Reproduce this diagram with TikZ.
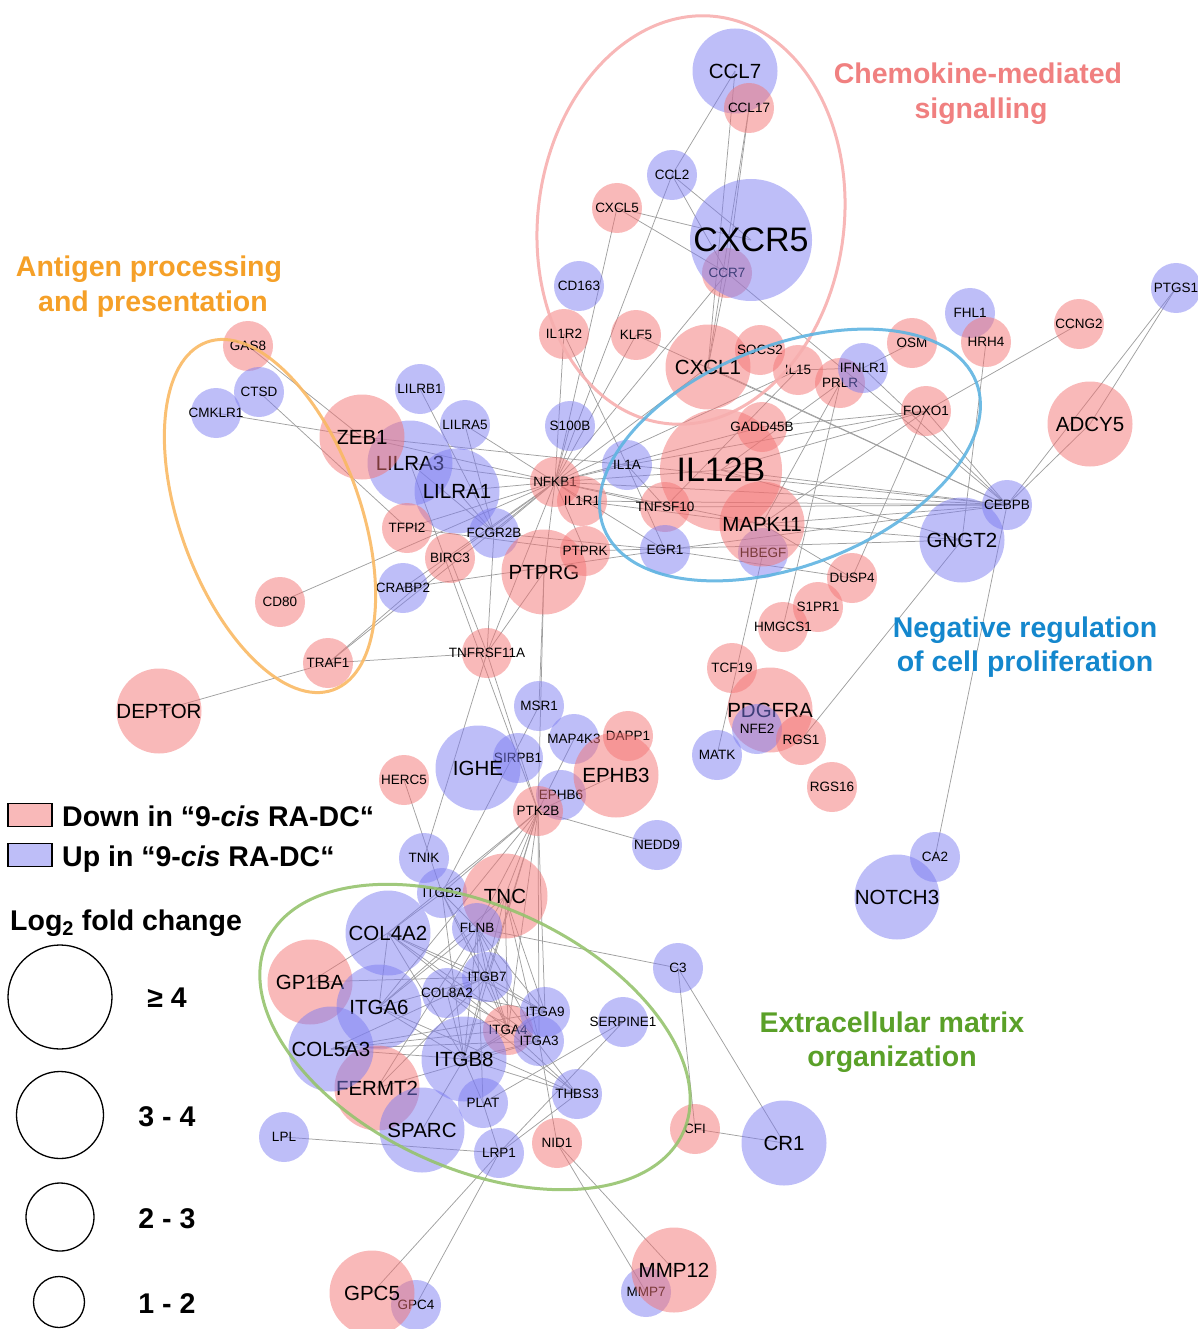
\documentclass[tikz,border=0pt]{standalone}
\usepackage{fontspec}
\setmainfont{Liberation Sans}
\definecolor{pinkc}{RGB}{243,115,115}
\definecolor{bluec}{RGB}{125,125,241}
\definecolor{pinkL}{RGB}{249,185,185}
\definecolor{blueL}{RGB}{190,190,248}
\definecolor{edgec}{RGB}{160,160,160}
\definecolor{chemc}{RGB}{240,128,128}
\definecolor{antic}{RGB}{245,160,40}
\definecolor{negc}{RGB}{20,135,205}
\definecolor{ecmc}{RGB}{90,160,40}
\definecolor{chemE}{RGB}{247,175,175}
\definecolor{antiE}{RGB}{250,185,100}
\definecolor{negE}{RGB}{95,180,225}
\definecolor{ecmE}{RGB}{150,195,110}
\tikzset{
  nd/.style={circle, draw=none, inner sep=0pt, fill opacity=0.5, text opacity=1},
  pk/.style={nd, fill=pinkc},
  bl/.style={nd, fill=bluec},
  sm/.style={minimum size=50pt},
  md/.style={minimum size=85pt},
  lg/.style={minimum size=122pt},
  labsm/.style={inner sep=0pt, font=\fontsize{13.5}{14}\selectfont},
  labmd/.style={inner sep=0pt, font=\fontsize{20.5}{22}\selectfont},
  lablg/.style={inner sep=0pt, font=\fontsize{34}{36}\selectfont},
  edge/.style={draw=edgec, line width=0.75pt},
  title/.style={anchor=base, inner sep=0pt, font=\bfseries\fontsize{28.5}{30}\selectfont},
  legtext/.style={inner sep=0pt, font=\bfseries\fontsize{28.5}{30}\selectfont},
  legbox/.style={draw=black, line width=1.5pt, minimum width=44pt, minimum height=23pt, inner sep=0pt},
  legcirc/.style={draw=black, line width=1.3pt},
  group/.style={line width=3pt, opacity=0.9}
}
\newcommand\gnode[6]{\node[#4,#5] (#1) at (#2,#3) {}; \node[lab#5] (#1-t) at (#2,#3) {#6};}
\begin{document}
\begin{tikzpicture}[x=1pt,y=-1pt]
\useasboundingbox (0,0) rectangle (1197,1329);
% node coordinates (declared first for edges)
\foreach \n/\x/\y in {
CCL17/749/108, CXCL5/617/208, CCR7/727/273, IL1R2/564/334, KLF5/636/335, SOCS2/760/350,
IL15/798/370, GADD45B/762/427, NFKB1/555/482, IL1R1/582/501, TNFSF10/665/507, PTPRK/585/551,
TFPI2/407/528, BIRC3/450/558, TNFRSF11A/487/653, HMGCS1/783/627, S1PR1/818/607, DUSP4/852/578,
FOXO1/926/411, PRLR/840/383, OSM/912/343, HRH4/986/342, CCNG2/1079/324, GAS8/248/346,
CD80/280/602, TRAF1/328/663, DAPP1/628/736, PTK2B/538/811, HERC5/404/780, TCF19/732/668,
RGS1/801/740, RGS16/832/787, ITGA4/508/1030, NID1/557/1143, CFI/695/1129,
CXCL1/708/367, ZEB1/362/437, MAPK11/762/524, PTPRG/544/572, ADCY5/1090/424, DEPTOR/159/711,
EPHB3/616/775, PDGFRA/770/710, TNC/505/896, GP1BA/310/982, FERMT2/377/1088, GPC5/372/1293,
MMP12/674/1270, IL12B/721/470,
CCL2/672/175, CD163/579/286, LILRB1/420/389, LILRA5/465/425, S100B/570/426, IL1A/627/465,
HBEGF/763/553, EGR1/665/550, FCGR2B/494/533, CRABP2/403/588, IFNLR1/863/368, FHL1/970/313,
PTGS1/1176/288, CEBPB/1007/505, CTSD/259/392, CMKLR1/216/413, MSR1/539/706, MAP4K3/574/739,
SIRPB1/518/758, EPHB6/561/795, NEDD9/657/845, TNIK/424/858, ITGB2/442/893, NFE2/757/729,
MATK/717/755, CA2/935/857, FLNB/477/928, ITGB7/487/977, COL8A2/447/993, ITGA9/545/1012,
ITGA3/539/1041, SERPINE1/623/1022, PLAT/483/1103, THBS3/577/1094, LPL/284/1137, LRP1/499/1153,
C3/678/968, GPC4/416/1305, MMP7/646/1292,
CCL7/735/71, LILRA3/410/463, LILRA1/457/491, GNGT2/962/540, IGHE/478/768, NOTCH3/897/897,
CR1/784/1143, COL4A2/388/933, ITGA6/379/1007, COL5A3/331/1049, ITGB8/464/1059, SPARC/422/1130,
CXCR5/751/240}
  \coordinate (\n) at (\x,\y);
% edges
\foreach \a/\b in {
CCL7/CCL2, CCL17/CCR7, CCL17/CXCL1, CCL7/CXCL1, CCL2/CXCR5, CCL2/CCR7, CCL2/NFKB1,
CXCL5/CXCR5, CXCL5/CCR7, CXCL5/NFKB1, CCR7/NFKB1, CCR7/CEBPB, CCR7/CXCL1,
IL1R2/NFKB1, IL1R2/IL1A, KLF5/NFKB1, KLF5/CEBPB,
NFKB1/IL1A, NFKB1/IL12B, NFKB1/IL1R1, NFKB1/TNFSF10, NFKB1/EGR1, NFKB1/MAPK11, NFKB1/PTPRK,
NFKB1/PTPRG, NFKB1/FCGR2B, NFKB1/TFPI2, NFKB1/BIRC3, NFKB1/CRABP2, NFKB1/TNFRSF11A,
NFKB1/LILRA5, NFKB1/LILRA3, NFKB1/LILRA1, NFKB1/ZEB1, NFKB1/S100B, NFKB1/CXCL1, NFKB1/IL15,
NFKB1/CD80, NFKB1/TRAF1, NFKB1/CEBPB, NFKB1/GADD45B,
LILRB1/FCGR2B, LILRA5/FCGR2B, LILRA1/FCGR2B, LILRA3/FCGR2B,
ZEB1/IL1A, ZEB1/CMKLR1, ZEB1/GAS8, CTSD/TFPI2, LILRA3/SIRPB1, TFPI2/PTPRK,
BIRC3/TNFRSF11A, FCGR2B/TNFRSF11A, PTPRG/TNFRSF11A, TRAF1/BIRC3, TRAF1/TNFRSF11A,
TRAF1/DEPTOR, CRABP2/EGR1,
IL1A/EGR1, IL1A/TNFSF10, IL1A/CEBPB, IL1A/FOXO1, IL1R1/CEBPB, IL1R1/MAPK11,
TNFSF10/CEBPB, TNFSF10/IL15, IL12B/CEBPB, IL12B/GNGT2, IL12B/FOXO1, IL12B/PRLR,
MAPK11/GNGT2, MAPK11/CEBPB, MAPK11/DUSP4, MAPK11/FOXO1, MAPK11/PRLR,
EGR1/CEBPB, EGR1/DUSP4, EGR1/FCGR2B, HBEGF/MATK, GADD45B/FOXO1,
CXCL1/CEBPB, IL15/IFNLR1, IFNLR1/CEBPB, IFNLR1/OSM, PRLR/HMGCS1,
FOXO1/CEBPB, FOXO1/DUSP4, FOXO1/CCNG2, HRH4/GNGT2,
PTGS1/ADCY5, PTGS1/CEBPB, ADCY5/CEBPB, GNGT2/RGS1, CEBPB/CA2, PTPRK/GNGT2,
PTPRG/MSR1, PTPRG/PTK2B, TNFRSF11A/PTK2B, TNFRSF11A/TNIK, MSR1/ITGB2, HERC5/ITGB2,
PTK2B/NEDD9, PTK2B/EPHB3, PTK2B/SIRPB1, PTK2B/ITGB2, PTK2B/TNC, PTK2B/FLNB, PTK2B/ITGB7,
PTK2B/ITGA4, PTK2B/ITGA9, PTK2B/ITGA3, PTK2B/ITGB8, PTK2B/COL4A2, PTK2B/ITGA6, PTK2B/MAP4K3,
COL4A2/ITGA6, COL4A2/ITGB8, COL4A2/ITGA9, COL4A2/ITGA3, COL4A2/ITGB7, COL4A2/ITGA4,
GP1BA/COL4A2, GP1BA/ITGB7, ITGA6/ITGB8, ITGA6/ITGB7, ITGA6/FLNB, ITGA6/TNC, ITGA6/THBS3,
COL5A3/ITGB8, COL5A3/ITGA3, COL5A3/ITGA9, COL5A3/ITGA4, COL5A3/ITGB7,
FERMT2/ITGB7, FERMT2/ITGA3, FERMT2/FLNB, SPARC/ITGB8,
PLAT/SERPINE1, PLAT/LRP1, PLAT/ITGB8, PLAT/FLNB,
THBS3/ITGA4, THBS3/ITGB8, THBS3/LRP1, THBS3/COL8A2, THBS3/ITGB7,
SERPINE1/LRP1, LRP1/LPL, LRP1/GPC5, LRP1/GPC4, NID1/MMP12, NID1/MMP7, NID1/ITGA3,
C3/CFI, C3/CR1, CFI/CR1, C3/FLNB,
TNC/ITGA9, TNC/ITGB8, TNC/ITGA3, TNC/ITGA4, TNC/COL8A2,
ITGB2/ITGB7, ITGB2/FLNB, ITGB2/COL4A2, ITGB2/ITGA4, ITGB2/ITGB8,
FLNB/ITGB7, FLNB/ITGA4, FLNB/ITGB8, FLNB/ITGA9, FLNB/ITGA3,
ITGB7/ITGA4, ITGB7/COL8A2, ITGB7/ITGA9, COL8A2/ITGA9, COL8A2/ITGA3, COL8A2/ITGB8,
ITGA9/ITGB8, ITGA3/ITGB8, ITGA4/ITGB8}
  \draw[edge] (\a) -- (\b);
% nodes
\gnode{CCL7}{735}{71}{bl}{md}{CCL7}
\gnode{CCL17}{749}{108}{pk}{sm}{CCL17}
\gnode{CCL2}{672}{175}{bl}{sm}{CCL2}
\gnode{CXCL5}{617}{208}{pk}{sm}{CXCL5}
\gnode{CCR7}{727}{273}{pk}{sm}{CCR7}
\gnode{CXCR5}{751}{240}{bl}{lg}{CXCR5}
\gnode{CD163}{579}{286}{bl}{sm}{CD163}
\gnode{IL1R2}{564}{334}{pk}{sm}{IL1R2}
\gnode{KLF5}{636}{335}{pk}{sm}{KLF5}
\gnode{CXCL1}{708}{367}{pk}{md}{CXCL1}
\gnode{SOCS2}{760}{350}{pk}{sm}{SOCS2}
\gnode{PRLR}{840}{383}{pk}{sm}{PRLR}
\gnode{IFNLR1}{863}{368}{bl}{sm}{IFNLR1}
\gnode{IL15}{798}{370}{pk}{sm}{IL15}
\gnode{OSM}{912}{343}{pk}{sm}{OSM}
\gnode{FHL1}{970}{313}{bl}{sm}{FHL1}
\gnode{HRH4}{986}{342}{pk}{sm}{HRH4}
\gnode{CCNG2}{1079}{324}{pk}{sm}{CCNG2}
\gnode{PTGS1}{1176}{288}{bl}{sm}{PTGS1}
\gnode{ADCY5}{1090}{424}{pk}{md}{ADCY5}
\gnode{FOXO1}{926}{411}{pk}{sm}{FOXO1}
\gnode{IL12B}{721}{470}{pk}{lg}{IL12B}
\gnode{GADD45B}{762}{427}{pk}{sm}{GADD45B}
\gnode{HBEGF}{763}{553}{bl}{sm}{HBEGF}
\gnode{MAPK11}{762}{524}{pk}{md}{MAPK11}
\gnode{TNFSF10}{665}{507}{pk}{sm}{TNFSF10}
\gnode{EGR1}{665}{550}{bl}{sm}{EGR1}
\gnode{IL1A}{627}{465}{bl}{sm}{IL1A}
\gnode{S100B}{570}{426}{bl}{sm}{S100B}
\gnode{GNGT2}{962}{540}{bl}{md}{GNGT2}
\gnode{CEBPB}{1007}{505}{bl}{sm}{CEBPB}
\gnode{DUSP4}{852}{578}{pk}{sm}{DUSP4}
\gnode{S1PR1}{818}{607}{pk}{sm}{S1PR1}
\gnode{HMGCS1}{783}{627}{pk}{sm}{HMGCS1}
\gnode{GAS8}{248}{346}{pk}{sm}{GAS8}
\gnode{CTSD}{259}{392}{bl}{sm}{CTSD}
\gnode{CMKLR1}{216}{413}{bl}{sm}{CMKLR1}
\gnode{LILRB1}{420}{389}{bl}{sm}{LILRB1}
\gnode{LILRA3}{410}{463}{bl}{md}{LILRA3}
\gnode{ZEB1}{362}{437}{pk}{md}{ZEB1}
\gnode{LILRA5}{465}{425}{bl}{sm}{LILRA5}
\gnode{LILRA1}{457}{491}{bl}{md}{LILRA1}
\gnode{TFPI2}{407}{528}{pk}{sm}{TFPI2}
\gnode{FCGR2B}{494}{533}{bl}{sm}{FCGR2B}
\gnode{BIRC3}{450}{558}{pk}{sm}{BIRC3}
\gnode{CRABP2}{403}{588}{bl}{sm}{CRABP2}
\gnode{PTPRG}{544}{572}{pk}{md}{PTPRG}
\gnode{PTPRK}{585}{551}{pk}{sm}{PTPRK}
\gnode{NFKB1}{555}{482}{pk}{sm}{NFKB1}
\gnode{IL1R1}{582}{501}{pk}{sm}{IL1R1}
\gnode{CD80}{280}{602}{pk}{sm}{CD80}
\gnode{TRAF1}{328}{663}{pk}{sm}{TRAF1}
\gnode{TNFRSF11A}{487}{653}{pk}{sm}{TNFRSF11A}
\gnode{DEPTOR}{159}{711}{pk}{md}{DEPTOR}
\gnode{TCF19}{732}{668}{pk}{sm}{TCF19}
\gnode{PDGFRA}{770}{710}{pk}{md}{PDGFRA}
\gnode{NFE2}{757}{729}{bl}{sm}{NFE2}
\gnode{RGS1}{801}{740}{pk}{sm}{RGS1}
\gnode{MATK}{717}{755}{bl}{sm}{MATK}
\gnode{RGS16}{832}{787}{pk}{sm}{RGS16}
\gnode{MSR1}{539}{706}{bl}{sm}{MSR1}
\gnode{MAP4K3}{574}{739}{bl}{sm}{MAP4K3}
\gnode{DAPP1}{628}{736}{pk}{sm}{DAPP1}
\gnode{SIRPB1}{518}{758}{bl}{sm}{SIRPB1}
\gnode{IGHE}{478}{768}{bl}{md}{IGHE}
\gnode{EPHB6}{561}{795}{bl}{sm}{EPHB6}
\gnode{EPHB3}{616}{775}{pk}{md}{EPHB3}
\gnode{PTK2B}{538}{811}{pk}{sm}{PTK2B}
\gnode{HERC5}{404}{780}{pk}{sm}{HERC5}
\gnode{NEDD9}{657}{845}{bl}{sm}{NEDD9}
\gnode{TNIK}{424}{858}{bl}{sm}{TNIK}
\gnode{NOTCH3}{897}{897}{bl}{md}{NOTCH3}
\gnode{CA2}{935}{857}{bl}{sm}{CA2}
\gnode{ITGB2}{442}{893}{bl}{sm}{ITGB2}
\gnode{TNC}{505}{896}{pk}{md}{TNC}
\gnode{COL4A2}{388}{933}{bl}{md}{COL4A2}
\gnode{FLNB}{477}{928}{bl}{sm}{FLNB}
\gnode{GP1BA}{310}{982}{pk}{md}{GP1BA}
\gnode{ITGB7}{487}{977}{bl}{sm}{ITGB7}
\gnode{COL8A2}{447}{993}{bl}{sm}{COL8A2}
\gnode{ITGA6}{379}{1007}{bl}{md}{ITGA6}
\gnode{FERMT2}{377}{1088}{pk}{md}{FERMT2}
\gnode{COL5A3}{331}{1049}{bl}{md}{COL5A3}
\gnode{ITGA4}{508}{1030}{pk}{sm}{ITGA4}
\gnode{ITGA9}{545}{1012}{bl}{sm}{ITGA9}
\gnode{ITGA3}{539}{1041}{bl}{sm}{ITGA3}
\gnode{ITGB8}{464}{1059}{bl}{md}{ITGB8}
\gnode{SERPINE1}{623}{1022}{bl}{sm}{SERPINE1}
\gnode{C3}{678}{968}{bl}{sm}{C3}
\gnode{SPARC}{422}{1130}{bl}{md}{SPARC}
\gnode{PLAT}{483}{1103}{bl}{sm}{PLAT}
\gnode{THBS3}{577}{1094}{bl}{sm}{THBS3}
\gnode{LPL}{284}{1137}{bl}{sm}{LPL}
\gnode{LRP1}{499}{1153}{bl}{sm}{LRP1}
\gnode{NID1}{557}{1143}{pk}{sm}{NID1}
\gnode{CFI}{695}{1129}{pk}{sm}{CFI}
\gnode{CR1}{784}{1143}{bl}{md}{CR1}
\gnode{GPC4}{416}{1305}{bl}{sm}{GPC4}
\gnode{GPC5}{372}{1293}{pk}{md}{GPC5}
\gnode{MMP7}{646}{1292}{bl}{sm}{MMP7}
\gnode{MMP12}{674}{1270}{pk}{md}{MMP12}
% group outlines
\draw[group, draw=chemE, rotate around={-7.5:(691,220)}] (691,220) ellipse [x radius=153pt, y radius=205pt];
\draw[group, draw=negE, rotate around={21.5:(790,455)}] (790,455) ellipse [x radius=200pt, y radius=110pt];
\draw[group, draw=antiE, rotate around={20:(270,516)}] (270,516) ellipse [x radius=90pt, y radius=185pt];
\draw[group, draw=ecmE, rotate around={-24.7:(475,1037)}] (475,1037) ellipse [x radius=229pt, y radius=131pt];
% group titles
\node[title, text=chemc] (t1a) at (978,84) {Chemokine-mediated};
\node[title, text=chemc] (t1b) at (981,119) {signalling};
\node[title, text=antic] (t2a) at (149,277) {Antigen processing};
\node[title, text=antic] (t2b) at (153,311) {and presentation};
\node[title, text=negc] (t3a) at (1025,637) {Negative regulation};
\node[title, text=negc] (t3b) at (1025,671) {of cell proliferation};
\node[title, text=ecmc] (t4a) at (892,1032) {Extracellular matrix};
\node[title, text=ecmc] (t4b) at (892,1066) {organization};
% legend
\node[legbox, fill=pinkL] (lb1) at (30,815) {};
\node[legtext, anchor=base west] (lt1) at (62,826) {Down in “9-\textit{cis} RA-DC“};
\node[legbox, fill=blueL] (lb2) at (30,855) {};
\node[legtext, anchor=base west] (lt2) at (62,866) {Up in “9-\textit{cis} RA-DC“};
\node[legtext, anchor=base west] (lt3) at (10,930) {Log\textsubscript{2} fold change};
\draw[legcirc] (60,997) circle [radius=52pt];
\draw[legcirc] (60,1115) circle [radius=43.5pt];
\draw[legcirc] (60,1217) circle [radius=34pt];
\draw[legcirc] (59,1302) circle [radius=25.5pt];
\node[legtext, anchor=base] (lc1) at (167,1007) {≥ 4};
\node[legtext, anchor=base] (lc2) at (167,1126) {3 - 4};
\node[legtext, anchor=base] (lc3) at (167,1228) {2 - 3};
\node[legtext, anchor=base] (lc4) at (167,1313) {1 - 2};
\end{tikzpicture}
\end{document}
